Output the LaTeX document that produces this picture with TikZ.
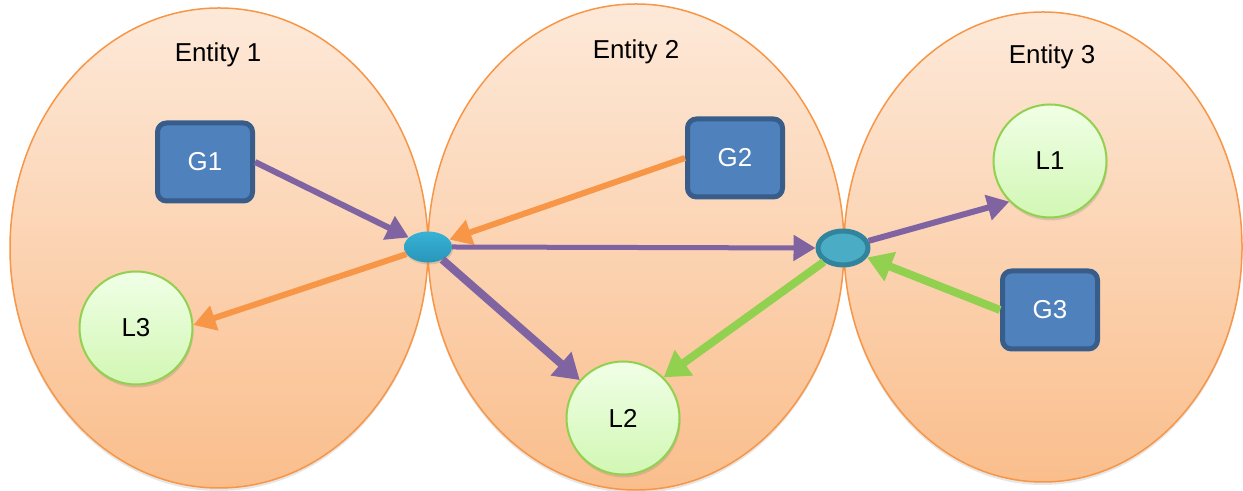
\documentclass[tikz,border=0pt]{standalone}
\usepackage{fontspec}
\setmainfont{Liberation Sans}
\usetikzlibrary{arrows.meta,shapes.geometric,shadows}

\definecolor{orgline}{HTML}{F79646}
\definecolor{orgtop}{RGB}{253,233,217}
\definecolor{orgbot}{RGB}{250,190,140}
\definecolor{gfill}{HTML}{4F81BD}
\definecolor{gborder}{HTML}{385D8A}
\definecolor{lborder}{HTML}{92D050}
\definecolor{ltop}{RGB}{240,255,230}
\definecolor{lbot}{RGB}{210,247,180}
\definecolor{purp}{HTML}{8064A2}
\definecolor{grn}{HTML}{92D050}
\definecolor{jtop}{RGB}{55,178,214}
\definecolor{jbot}{RGB}{40,150,185}
\definecolor{jfill}{HTML}{4BACC6}
\definecolor{jborder}{HTML}{31849B}

\begin{document}
\begin{tikzpicture}[x=1bp,y=1bp,line join=bevel,
  entity/.style={draw=orgline,line width=1.5bp,ellipse,inner sep=0pt,
    top color=orgtop,bottom color=orgbot,
    drop shadow={shadow xshift=0bp,shadow yshift=-3bp,opacity=0.2}},
  gbox/.style={draw=gborder,line width=5bp,rounded corners=9bp,fill=gfill,
    text=white,minimum width=95bp,minimum height=78bp,
    font=\fontsize{26}{30}\selectfont,
    drop shadow={shadow xshift=1bp,shadow yshift=-2bp,opacity=0.25}},
  lcirc/.style={draw=lborder,line width=2bp,circle,minimum size=113bp,inner sep=0pt,
    top color=ltop,bottom color=lbot,font=\fontsize{26}{30}\selectfont,
    drop shadow={shadow xshift=1bp,shadow yshift=-3bp,opacity=0.25}},
  title/.style={font=\fontsize{26}{30}\selectfont},
  flow/.style={-{Triangle[length=22bp,width=25bp]},line width=6bp},
  bigflow/.style={-{Triangle[length=25bp,width=30bp]},line width=8bp},
  ]
%%
  \useasboundingbox (0,0) rectangle (1243,491);
  \node (e1) at (219bp,243bp) [entity,minimum width=418bp,minimum height=480bp] {};
  \node (e2) at (636bp,244bp) [entity,minimum width=416bp,minimum height=486bp] {};
  \node (e3) at (1043bp,244bp) [entity,minimum width=398bp,minimum height=470bp] {};
  \node (t1) at (218bp,436bp) [title] {Entity 1};
  \node (t2) at (636bp,439bp) [title] {Entity 2};
  \node (t3) at (1052bp,434bp) [title] {Entity 3};
  % groups and listeners
  \node (g1) at (205bp,329bp) [gbox] {G1};
  \node (g2) at (735bp,333bp) [gbox] {G2};
  \node (g3) at (1050bp,181bp) [gbox] {G3};
  \node (l1) at (1050bp,330bp) [lcirc] {L1};
  \node (l2) at (623bp,73bp) [lcirc] {L2};
  \node (l3) at (136bp,163bp) [lcirc] {L3};
  % junctions
  \node (j1) at (428bp,244bp) [ellipse,inner sep=0pt,minimum width=48bp,minimum height=31bp,
    top color=jtop,bottom color=jbot,
    drop shadow={shadow xshift=1bp,shadow yshift=-2bp,opacity=0.25}] {};
  \node (j2) at (843bp,243bp) [ellipse,inner sep=0pt,minimum width=50bp,minimum height=34bp,
    draw=jborder,line width=5bp,fill=jfill] {};
  % flows
  \draw [flow,purp] (g1.east) -- (j1);
  \draw [flow,orgline] (j1) -- (l3.3);
  \draw [flow,orgline] (g2.west) -- (j1);
  \draw [flow,line width=5bp,purp] (j1.east) -- (j2.west);
  \draw [bigflow,purp] (j1) -- (l2);
  \draw [flow,purp] (j2) -- (l1.225);
  \draw [bigflow,grn] (g3.west) -- (j2);
  \draw [bigflow,grn] (j2) -- (l2.45);
%
\end{tikzpicture}
\end{document}
